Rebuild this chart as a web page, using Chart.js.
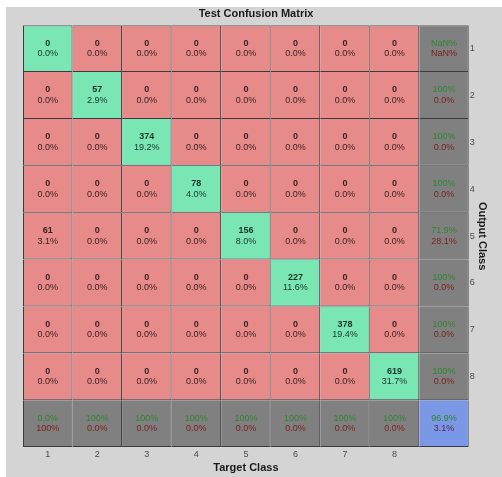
<!DOCTYPE html>
<html>
<head>
<meta charset="utf-8">
<script src="https://cdn.jsdelivr.net/npm/chart.js@4.4.1/dist/chart.umd.min.js"></script>
<style>
  html, body { margin: 0; padding: 0; background: #ffffff; }
  #panel { position: absolute; left: 6px; top: 7px; width: 496px; height: 470px; background: #d4d4d4; }
  canvas { display: block; }
</style>
</head>
<body>
<div id="panel"><canvas id="cm" width="496" height="470"></canvas></div>
<script>
// Class names along each axis
const targetClasses = ['1', '2', '3', '4', '5', '6', '7', '8'];
const outputClasses = ['1', '2', '3', '4', '5', '6', '7', '8'];

// Sample counts: rows = output class, columns = target class
const counts = [
  [0,  0,   0,   0,   0,   0,   0,   0],
  [0,  57,  0,   0,   0,   0,   0,   0],
  [0,  0,   374, 0,   0,   0,   0,   0],
  [0,  0,   0,   78,  0,   0,   0,   0],
  [61, 0,   0,   0,   156, 0,   0,   0],
  [0,  0,   0,   0,   0,   227, 0,   0],
  [0,  0,   0,   0,   0,   0,   378, 0],
  [0,  0,   0,   0,   0,   0,   0,   619]
];

const n = targetClasses.length;
const xLabels = [...targetClasses, ''];
const yLabels = [...outputClasses, ''];

const total = counts.flat().reduce((a, b) => a + b, 0);
const correct = counts.reduce((s, row, i) => s + row[i], 0);

function fmtPct(v) {
  if (isNaN(v)) return 'NaN%';
  if (v === 100) return '100%';
  return v.toFixed(1) + '%';
}
function summary(hit, all) {
  const p = hit / all * 100;
  return { top: fmtPct(p), bottom: fmtPct(isNaN(p) ? NaN : 100 - p) };
}

const COL_GREEN = '#79e6b3';
const COL_RED = '#e68b8a';
const COL_GRAY = '#808080';
const COL_BLUE = '#7a98e6';

function cellKind(r, c) {
  if (r === n && c === n) return 'total';
  if (r === n || c === n) return 'summary';
  return r === c ? 'hit' : 'miss';
}
function cellColor(r, c) {
  return { total: COL_BLUE, summary: COL_GRAY, hit: COL_GREEN, miss: COL_RED }[cellKind(r, c)];
}
function cellLabel(r, c) {
  const kind = cellKind(r, c);
  if (kind === 'total') return summary(correct, total);
  if (kind === 'summary') {
    if (c === n) return summary(counts[r][r], counts[r].reduce((a, b) => a + b, 0));
    return summary(counts[c][c], counts.reduce((s, row) => s + row[c], 0));
  }
  const v = counts[r][c];
  return { top: String(v), bottom: fmtPct(v / total * 100) };
}

// One floating-bar dataset per matrix row; each bar spans one row band
const datasets = yLabels.map((_, r) => ({
  label: yLabels[r],
  data: xLabels.map(() => [r, r + 1]),
  backgroundColor: xLabels.map((_, c) => cellColor(r, c)),
  borderColor: '#3a3a40',
  borderWidth: (ctx) => ({
    top: ctx.datasetIndex === 0 ? 1 : 0,
    left: ctx.dataIndex === 0 ? 1 : 0,
    right: 1,
    bottom: 1
  }),
  borderSkipped: false,
  inflateAmount: 0,
  barPercentage: 1,
  categoryPercentage: 1,
  cellKinds: xLabels.map((_, c) => cellKind(r, c)),
  cellLabels: xLabels.map((_, c) => cellLabel(r, c))
}));

const FONT = '"Liberation Sans", Arial, sans-serif';

const cellText = {
  id: 'cellText',
  afterDatasetsDraw(chart) {
    const ctx = chart.ctx;
    ctx.save();
    ctx.textAlign = 'center';
    ctx.textBaseline = 'middle';
    chart.data.datasets.forEach((ds, r) => {
      chart.getDatasetMeta(r).data.forEach((bar, c) => {
        const cx = bar.x;
        const cy = (bar.y + bar.base) / 2;
        const kind = ds.cellKinds[c];
        const lab = ds.cellLabels[c];
        if (kind === 'hit' || kind === 'miss') {
          const ink = kind === 'hit' ? '#17362a' : '#3b2222';
          ctx.fillStyle = ink;
          ctx.font = 'bold 9px ' + FONT;
          ctx.fillText(lab.top, cx, cy - 5.5);
          ctx.font = '9px ' + FONT;
          ctx.fillText(lab.bottom, cx, cy + 5);
        } else {
          ctx.font = '9px ' + FONT;
          ctx.fillStyle = '#2f852f';
          ctx.fillText(lab.top, cx, cy - 5.5);
          ctx.fillStyle = kind === 'total' ? '#5a1f4a' : '#7a2020';
          ctx.fillText(lab.bottom, cx, cy + 5);
        }
      });
    });
    ctx.restore();
  }
};

new Chart(document.getElementById('cm'), {
  type: 'bar',
  data: { labels: xLabels, datasets },
  plugins: [cellText],
  options: {
    responsive: false,
    animation: false,
    devicePixelRatio: 1,
    layout: { padding: { left: 17, right: 13, top: 0, bottom: 2 } },
    plugins: {
      legend: { display: false },
      tooltip: { enabled: false },
      title: {
        display: true,
        text: 'Test Confusion Matrix',
        color: '#1a1a1a',
        font: { family: FONT, size: 11, weight: 'bold' },
        padding: { top: 0, bottom: 5 }
      }
    },
    scales: {
      x: {
        type: 'category',
        stacked: true,
        offset: true,
        grid: { display: false, drawTicks: false },
        border: { display: false },
        ticks: { color: '#4a4a4a', font: { family: FONT, size: 9 }, padding: 2, autoSkip: false, maxRotation: 0 },
        title: {
          display: true,
          text: 'Target Class',
          color: '#1a1a1a',
          font: { family: FONT, size: 11, weight: 'bold' },
          padding: { top: 0, bottom: 0 }
        }
      },
      y: {
        type: 'linear',
        position: 'right',
        reverse: true,
        stacked: false,
        min: 0,
        max: yLabels.length,
        grid: { display: false, drawTicks: false },
        border: { display: false },
        afterBuildTicks: (axis) => {
          axis.ticks = yLabels.map((_, i) => ({ value: i + 0.5 }));
        },
        ticks: {
          color: '#4a4a4a',
          font: { family: FONT, size: 9 },
          padding: 1,
          autoSkip: false,
          callback: (value, index) => yLabels[index]
        },
        title: {
          display: true,
          text: 'Output Class',
          color: '#1a1a1a',
          font: { family: FONT, size: 11, weight: 'bold' },
          padding: { top: 0, bottom: 0 }
        }
      }
    }
  }
});
</script>
</body>
</html>
